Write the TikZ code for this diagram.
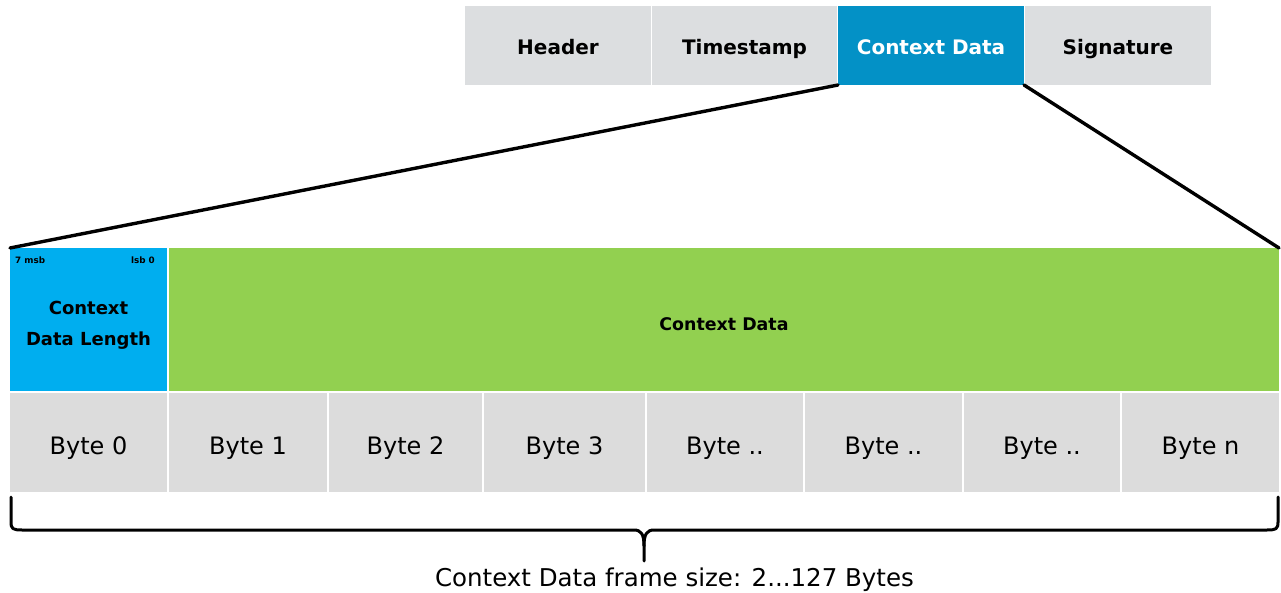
\documentclass[tikz,border=0pt]{standalone}
\usepackage{fontspec}
\setmainfont{DejaVu Sans}
\definecolor{hdrgray}{HTML}{DCDEE0}
\definecolor{hdrblue}{HTML}{0391C6}
\definecolor{lenblue}{HTML}{00AEEF}
\definecolor{datagreen}{HTML}{92D050}
\definecolor{bytegray}{HTML}{DCDCDC}
\begin{document}
\begin{tikzpicture}[x=1pt,y=-1pt,
  box/.style={anchor=north west, inner sep=0pt, outer sep=0pt, draw=none, align=center},
  hdr/.style={box, fill=hdrgray, minimum width=#1, minimum height=79pt,
    font=\fontsize{20}{24}\selectfont\bfseries, text height=17.6pt, text depth=0pt},
  hdrsel/.style={hdr=#1, fill=hdrblue, text=white},
  bytecell/.style={box, fill=bytegray, minimum width=#1, minimum height=99pt,
    font=\fontsize{24}{28}\selectfont, text height=23pt, text depth=0pt},
  tiny/.style={inner sep=0pt, font=\fontsize{8.8}{9}\selectfont\bfseries},
  zoomline/.style={line width=3.4pt, line cap=round},
  bracepath/.style={line width=3pt, line join=round, line cap=round}
]
\useasboundingbox (0,0) rectangle (1281,593);
\fill[white] (0,0) rectangle (1281,593);

% top frame
\node[hdr=186pt] (header) at (465,6) {Header};
\node[hdr=185pt] (timestamp) at (652,6) {Timestamp};
\node[hdrsel=186pt] (ctx) at (838,6) {Context Data};
\node[hdr=186pt] (sig) at (1025,6) {Signature};

% expanded fields
\node[box, fill=lenblue, minimum width=157pt, minimum height=143pt] (len) at (10,248) {};
\node[box, fill=datagreen, minimum width=1110pt, minimum height=143pt,
  font=\fontsize{17.4}{20}\selectfont\bfseries, text height=22.4pt, text depth=0pt] (data) at (169,248) {Context Data};
\node[align=center, inner sep=0pt, font=\fontsize{18}{31.4}\selectfont\bfseries] (lenlbl) at (88.5,325.5) {Context\\Data Length};
\node[tiny, anchor=base west] (msb) at (15,263.3) {7 msb};
\node[tiny, anchor=base east] (lsb) at (155,263.3) {lsb 0};

% zoom lines
\draw[zoomline] (ctx.south west) -- (len.north west);
\draw[zoomline] (ctx.south east) -- (data.north east);

% bytes
\node[bytecell=157pt] (b0) at (10,393) {Byte 0};
\node[bytecell=158pt] (b1) at (169,393) {Byte 1};
\node[bytecell=153pt] (b2) at (329,393) {Byte 2};
\node[bytecell=161pt] (b3) at (484,393) {Byte 3};
\node[bytecell=156pt] (b4) at (647,393) {Byte ..};
\node[bytecell=157pt] (b5) at (805,393) {Byte ..};
\node[bytecell=156pt] (b6) at (964,393) {Byte ..};
\node[bytecell=157pt] (bn) at (1122,393) {Byte n};

% brace
\coordinate (bl) at (11,497);
\coordinate (br) at (1278,497);
\coordinate (tip) at (644,561);
\draw[bracepath] (bl) -- (11,522) .. controls (11,529) and (13,530) .. (22,530)
  -- (634,530) .. controls (641,530) and (644,534) .. (644,546) -- (tip);
\draw[bracepath] (br) -- (1278,522) .. controls (1278,529) and (1276,530) .. (1267,530)
  -- (654,530) .. controls (647,530) and (644,534) .. (644,546);

\node[anchor=base, inner sep=0pt, font=\fontsize{24.5}{28}\selectfont] (size) at (674.5,586.5) {Context Data frame size: 2...127 Bytes};
\end{tikzpicture}
\end{document}
